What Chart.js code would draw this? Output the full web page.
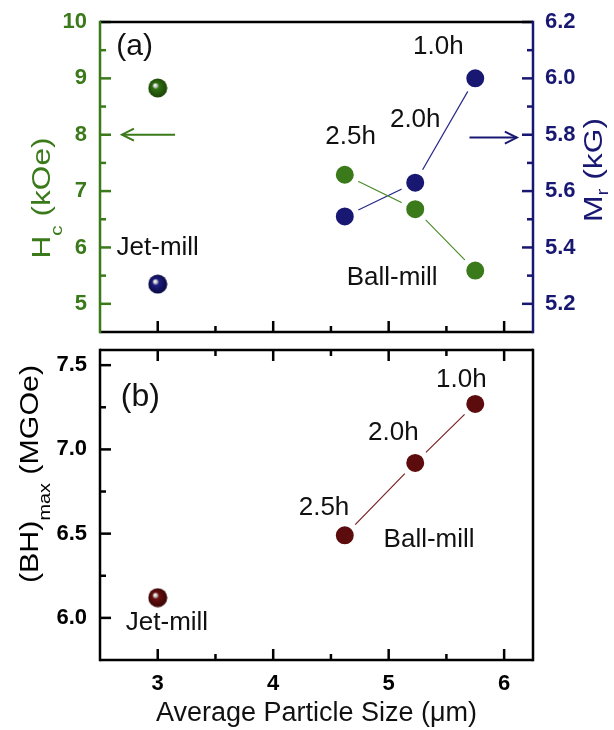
<!DOCTYPE html>
<html>
<head>
<meta charset="utf-8">
<script src="https://cdn.jsdelivr.net/npm/chart.js@4"></script>
<style>
  body { margin: 0; background: #fff; }
  #wrap { position: relative; width: 614px; height: 730px; }
  canvas { position: absolute; left: 0; }
</style>
</head>
<body>
<div id="wrap">
  <canvas id="topChart" width="614" height="346" style="top:0"></canvas>
  <canvas id="bottomChart" width="614" height="400" style="top:330px"></canvas>
</div>
<script>
// Hc, Mr and (BH)max against average particle size, jet-mill vs ball-mill
const ballSize = [4.62, 5.23, 5.75];
const ballTime = ['2.5h', '2.0h', '1.0h'];
const ballHc = [7.29, 6.68, 5.59];
const ballMr = [5.51, 5.63, 6.00];
const ballBH = [6.49, 6.92, 7.27];
const jetSize = [3.0];
const jetHc = [8.83];
const jetMr = [5.27];
const jetBH = [6.12];

const sizeTicks = [3, 4, 5, 6];
const sizeMinor = [3.5, 4.5, 5.5];
const hcTicks = [5, 6, 7, 8, 9, 10];
const hcMinor = [5.5, 6.5, 7.5, 8.5, 9.5];
const mrTicks = [5.2, 5.4, 5.6, 5.8, 6.0, 6.2];
const mrMinor = [5.3, 5.5, 5.7, 5.9, 6.1];
const bhTicks = [6.0, 6.5, 7.0, 7.5];
const bhMinor = [6.25, 6.75, 7.25];

const GREEN = '#3a7a1a', NAVY = '#181872', MAROON = '#5c0c0c';
const FONT = "'Liberation Sans', Arial, sans-serif";
Chart.defaults.font.family = FONT;

function pts(xs, ys) { return xs.map((x, i) => ({ x, y: ys[i] })); }

// shaded sphere used for the jet-mill points
function makeBall(base, dark) {
  const c = document.createElement('canvas');
  c.width = c.height = 20;
  const g = c.getContext('2d');
  const grad = g.createRadialGradient(7, 7, 0, 10, 10, 10);
  grad.addColorStop(0, '#ffffff');
  grad.addColorStop(0.16, '#d0d0d0');
  grad.addColorStop(0.34, base);
  grad.addColorStop(1, dark);
  g.fillStyle = grad;
  g.beginPath(); g.arc(10, 10, 9.5, 0, Math.PI * 2); g.fill();
  return c;
}

function setTicks(arr) { return s => { s.ticks = arr.map(v => ({ value: v })); }; }

// fixed axis size, and no extra room asked for label overhang
function fixSize(key, val) {
  return s => {
    s[key] = val;
    s.paddingTop = s.paddingBottom = s.paddingLeft = s.paddingRight = 0;
  };
}

function tickMarks(ctx, scale, vals, len, edge, dir, horiz) {
  vals.forEach(v => {
    const p = scale.getPixelForValue(v);
    ctx.beginPath();
    if (horiz) { ctx.moveTo(p, edge); ctx.lineTo(p, edge + dir * len); }
    else { ctx.moveTo(edge, p); ctx.lineTo(edge + dir * len, p); }
    ctx.stroke();
  });
}

function side(ctx, x0, y0, x1, y1, color) {
  ctx.strokeStyle = color;
  ctx.beginPath(); ctx.moveTo(x0, y0); ctx.lineTo(x1, y1); ctx.stroke();
}

// rotated axis title with a subscript, stretched along its length
function rotTitle(ctx, cx, cy, parts, color, len, drop) {
  const main = '26px ' + FONT, sub = '17px ' + FONT;
  ctx.save();
  let w = 0;
  parts.forEach(p => { ctx.font = p.sub ? sub : main; p.w = ctx.measureText(p.t).width; w += p.w; });
  ctx.translate(cx, cy);
  ctx.rotate(-Math.PI / 2);
  ctx.scale(len / w, 1);
  ctx.fillStyle = color;
  ctx.textAlign = 'left';
  ctx.textBaseline = 'alphabetic';
  let x = -w / 2;
  parts.forEach(p => {
    ctx.font = p.sub ? sub : main;
    ctx.fillText(p.t, x, p.sub ? 9 + drop : 9);
    x += p.w;
  });
  ctx.restore();
}

function arrow(ctx, x0, x1, y, color) {
  const d = Math.sign(x1 - x0);
  ctx.save();
  ctx.strokeStyle = color; ctx.lineWidth = 2;
  ctx.beginPath(); ctx.moveTo(x0, y); ctx.lineTo(x1, y); ctx.stroke();
  ctx.beginPath(); ctx.moveTo(x1 - d * 12, y - 6); ctx.lineTo(x1, y); ctx.lineTo(x1 - d * 12, y + 6); ctx.stroke();
  ctx.restore();
}

function notes(ctx, xs, ys, list) {
  ctx.save();
  ctx.fillStyle = '#111';
  ctx.textAlign = 'center';
  ctx.textBaseline = 'middle';
  list.forEach(n => {
    ctx.font = (n.size || 26) + 'px ' + FONT;
    ctx.fillText(n.t, xs.getPixelForValue(n.x), ys.getPixelForValue(n.y));
  });
  ctx.restore();
}

const topDecor = {
  id: 'topDecor',
  afterDraw(chart) {
    const { ctx, chartArea: a, scales: { x, y, y1 } } = chart;
    ctx.save();
    ctx.lineWidth = 2.5;
    ctx.strokeStyle = '#000';
    tickMarks(ctx, x, sizeTicks, 11, a.bottom, -1, true);
    tickMarks(ctx, x, sizeMinor, 6, a.bottom, -1, true);
    ctx.strokeStyle = GREEN;
    tickMarks(ctx, y, hcTicks, 11, a.left, 1, false);
    tickMarks(ctx, y, hcMinor, 6, a.left, 1, false);
    ctx.strokeStyle = NAVY;
    tickMarks(ctx, y1, mrTicks, 11, a.right, -1, false);
    tickMarks(ctx, y1, mrMinor, 6, a.right, -1, false);
    side(ctx, a.left, a.top, a.right, a.top, '#000');
    side(ctx, a.left, a.bottom, a.right, a.bottom, '#000');
    side(ctx, a.left, a.top - 1.25, a.left, a.bottom + 1.25, GREEN);
    side(ctx, a.right, a.top - 1.25, a.right, a.bottom + 1.25, NAVY);
    ctx.restore();

    arrow(ctx, x.getPixelForValue(3.15), x.getPixelForValue(2.69), y.getPixelForValue(8), GREEN);
    arrow(ctx, x.getPixelForValue(5.70), x.getPixelForValue(6.11), y1.getPixelForValue(5.79), NAVY);

    notes(ctx, x, y, [
      { t: '(a)', x: 2.80, y: 9.56, size: 30 },
      { t: 'Jet-mill', x: 3.0, y: 5.99 },
      { t: 'Ball-mill', x: 5.03, y: 5.46 },
      { t: ballTime[0], x: 4.67, y: 7.96 },
      { t: ballTime[1], x: 5.23, y: 8.26 },
      { t: ballTime[2], x: 5.43, y: 9.56 }
    ]);

    rotTitle(ctx, 41, 198, [{ t: 'H' }, { t: 'c', sub: true }, { t: ' (kOe)' }], GREEN, 121, 12);
    rotTitle(ctx, 593, 170, [{ t: 'M' }, { t: 'r', sub: true }, { t: ' (kG)' }], NAVY, 104, 6);
  }
};

const bottomDecor = {
  id: 'bottomDecor',
  afterDraw(chart) {
    const { ctx, chartArea: a, scales: { x, y } } = chart;
    ctx.save();
    ctx.lineWidth = 2.5;
    ctx.strokeStyle = '#000';
    tickMarks(ctx, x, sizeTicks, 11, a.bottom, -1, true);
    tickMarks(ctx, x, sizeMinor, 6, a.bottom, -1, true);
    tickMarks(ctx, x, sizeTicks, 11, a.top, 1, true);
    tickMarks(ctx, x, sizeMinor, 6, a.top, 1, true);
    tickMarks(ctx, y, bhTicks, 11, a.left, 1, false);
    tickMarks(ctx, y, bhMinor, 6, a.left, 1, false);
    side(ctx, a.left, a.top, a.right, a.top, '#000');
    side(ctx, a.left, a.bottom, a.right, a.bottom, '#000');
    side(ctx, a.left, a.top - 1.25, a.left, a.bottom + 1.25, '#000');
    side(ctx, a.right, a.top - 1.25, a.right, a.bottom + 1.25, '#000');
    ctx.restore();

    notes(ctx, x, y, [
      { t: '(b)', x: 2.85, y: 7.31, size: 32 },
      { t: ballTime[2], x: 5.63, y: 7.41 },
      { t: ballTime[1], x: 5.04, y: 7.097 },
      { t: ballTime[0], x: 4.44, y: 6.652 },
      { t: 'Ball-mill', x: 5.35, y: 6.462 },
      { t: 'Jet-mill', x: 3.08, y: 5.97 }
    ]);

    // canvas starts 330px down the page
    rotTitle(ctx, 29, 144, [{ t: '(BH)' }, { t: 'max', sub: true }, { t: ' (MGOe)' }], '#000', 218, 12);
  }
};

function ballSet(data, axis, color, line) {
  return {
    data, yAxisID: axis, showLine: true,
    borderColor: line, borderWidth: 1.2,
    pointRadius: 12, pointBorderWidth: 6,
    pointBorderColor: '#fff', pointBackgroundColor: color
  };
}

function jetSet(data, axis, img) {
  return { data, yAxisID: axis, showLine: false, pointStyle: img, pointRadius: 10 };
}

const tickFont = { size: 22, weight: 'bold' };
const noGrid = { display: false, drawTicks: false };
const common = {
  responsive: false, animation: false, devicePixelRatio: 1, events: [],
  plugins: { legend: { display: false }, tooltip: { enabled: false } }
};

new Chart(document.getElementById('topChart'), {
  type: 'scatter',
  data: {
    datasets: [
      ballSet(pts(ballSize, ballHc), 'y', GREEN, '#4a8a2a'),
      ballSet(pts(ballSize, ballMr), 'y1', NAVY, '#2a2a8c'),
      jetSet(pts(jetSize, jetHc), 'y', makeBall('#2f6e12', '#1a4206')),
      jetSet(pts(jetSize, jetMr), 'y1', makeBall('#1e1e80', '#08083e'))
    ]
  },
  options: {
    ...common,
    layout: { autoPadding: false, padding: { top: 22, left: 0, right: 0, bottom: 0 } },
    scales: {
      x: {
        type: 'linear', min: 2.5, max: 6.25,
        afterBuildTicks: setTicks(sizeTicks),
        ticks: { display: false }, grid: noGrid, border: { display: false },
        afterFit: fixSize('height', 14)
      },
      y: {
        position: 'left', min: 4.5, max: 10,
        afterBuildTicks: setTicks(hcTicks),
        ticks: { color: GREEN, font: tickFont, padding: 13, callback: v => String(v) },
        grid: noGrid, border: { display: false },
        afterFit: fixSize('width', 100)
      },
      y1: {
        position: 'right', min: 5.1, max: 6.2,
        afterBuildTicks: setTicks(mrTicks),
        ticks: { color: NAVY, font: tickFont, padding: 12, callback: v => v.toFixed(1) },
        grid: noGrid, border: { display: false },
        afterFit: fixSize('width', 81)
      }
    }
  },
  plugins: [topDecor]
});

new Chart(document.getElementById('bottomChart'), {
  type: 'scatter',
  data: {
    datasets: [
      ballSet(pts(ballSize, ballBH), 'y', MAROON, '#7a2222'),
      jetSet(pts(jetSize, jetBH), 'y', makeBall('#6a1010', '#350404'))
    ]
  },
  options: {
    ...common,
    layout: { autoPadding: false, padding: { top: 20, left: 0, right: 81, bottom: 0 } },
    scales: {
      x: {
        type: 'linear', min: 2.5, max: 6.25,
        afterBuildTicks: setTicks(sizeTicks),
        ticks: { color: '#000', font: tickFont, padding: 11 },
        grid: noGrid, border: { display: false },
        title: { display: true, text: 'Average Particle Size (μm)', color: '#111', font: { size: 27 }, padding: 0 },
        afterFit: fixSize('height', 70)
      },
      y: {
        position: 'left', min: 5.75, max: 7.59,
        afterBuildTicks: setTicks(bhTicks),
        ticks: { color: '#000', font: tickFont, padding: 13, callback: v => v.toFixed(1) },
        grid: noGrid, border: { display: false },
        afterFit: fixSize('width', 100)
      }
    }
  },
  plugins: [bottomDecor]
});
</script>
</body>
</html>
